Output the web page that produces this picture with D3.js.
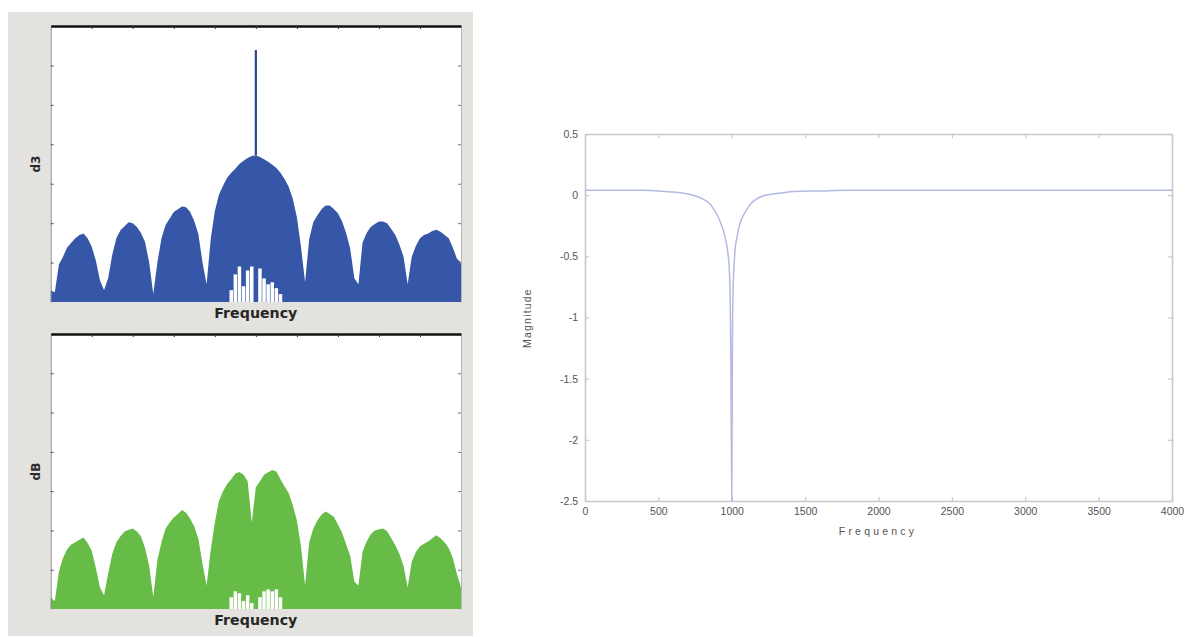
<!DOCTYPE html>
<html><head><meta charset="utf-8">
<script src="https://cdn.jsdelivr.net/npm/d3@7"></script>
<style>body{margin:0;background:#fff;} svg{display:block;}</style>
</head><body><svg id="c" width="1192" height="637"></svg>
<script>
// ---- Data: top spectrum (d3), sampled per frequency bin ----
const d3Upper = [0.30,0.25,0.95,1.15,1.38,1.50,1.62,1.70,1.74,1.62,
 1.40,1.05,0.55,0.30,0.60,1.20,1.62,1.82,1.92,2.02,
 2.00,1.90,1.75,1.52,1.00,0.20,1.00,1.62,1.95,2.12,
 2.28,2.35,2.42,2.40,2.28,2.05,1.72,1.00,0.45,1.60,
 2.30,2.72,2.95,3.15,3.28,3.38,3.50,3.58,3.65,3.70,
 3.72,3.68,3.62,3.56,3.48,3.40,3.28,3.12,2.92,2.62,
 2.15,1.40,0.50,1.60,2.02,2.20,2.35,2.45,2.45,2.36,
 2.25,2.05,1.75,1.35,0.60,0.45,1.50,1.75,1.90,1.98,
 2.04,2.04,2.00,1.85,1.70,1.45,1.15,0.45,1.15,1.42,
 1.62,1.70,1.74,1.80,1.83,1.78,1.70,1.62,1.38,1.10,1.00];
const d3Lower = [0,0,0,0,0,0,0,0,0,0, 0,0,0,0,0,0,0,0,0,0,
 0,0,0,0,0,0,0,0,0,0, 0,0,0,0,0,0,0,0,0,0,
 0,0,0,0,0.30,0.70,0.90,0.40,0.80,0.90,
 0,0.85,0.60,0.45,0.50,0.35,0.20,0,0,0,
 0,0,0,0,0,0,0,0,0,0, 0,0,0,0,0,0,0,0,0,0,
 0,0,0,0,0,0,0,0,0,0, 0,0,0,0,0,0,0,0,0,0,0];
const d3SpikeBin = [50];
const d3SpikeLevel = [6.39];

// ---- Data: bottom spectrum (dB) ----
const dBUpper = [0.30,0.20,0.95,1.30,1.52,1.64,1.70,1.76,1.82,1.68,
 1.48,1.05,0.55,0.35,0.90,1.40,1.70,1.85,1.97,2.02,
 2.05,1.97,1.85,1.55,1.10,0.30,1.25,1.70,2.05,2.20,
 2.33,2.42,2.52,2.45,2.30,2.10,1.78,1.15,0.60,1.50,
 2.20,2.75,3.00,3.18,3.30,3.45,3.49,3.42,3.25,2.20,
 3.10,3.25,3.42,3.48,3.54,3.50,3.30,3.12,2.95,2.65,
 2.25,1.60,0.60,1.70,2.05,2.25,2.40,2.48,2.42,2.35,
 2.15,1.95,1.65,1.35,0.70,0.60,1.45,1.72,1.90,2.00,
 2.03,2.05,1.98,1.80,1.62,1.40,1.10,0.55,1.20,1.45,
 1.60,1.66,1.72,1.80,1.88,1.80,1.70,1.55,1.30,0.90,0.55];
const dBLower = [0,0,0,0,0,0,0,0,0,0, 0,0,0,0,0,0,0,0,0,0,
 0,0,0,0,0,0,0,0,0,0, 0,0,0,0,0,0,0,0,0,0,
 0,0,0,0,0.30,0.45,0.40,0.20,0.35,0.15,
 0,0.30,0.45,0.50,0.45,0.50,0.30,0,0,0,
 0,0,0,0,0,0,0,0,0,0, 0,0,0,0,0,0,0,0,0,0,
 0,0,0,0,0,0,0,0,0,0, 0,0,0,0,0,0,0,0,0,0,0];

const spectrumXTicks = [10,20,30,40,50,60,70,80,90];
const spectrumYTicks = [1,2,3,4,5,6];

// ---- Data: notch filter magnitude ----
const notchFreq = [0,200,400,500,600,650,700,750,800,850,875,900,932,950,966,975,984,990,995,1000,
 1005,1011,1017,1023,1035,1046,1065,1091,1130,1170,1230,1284,1350,1420,1600,1800,2500,3000,4000];
const notchMag = [0.04,0.04,0.04,0.035,0.025,0.02,0.01,-0.005,-0.03,-0.07,-0.11,-0.16,-0.25,-0.32,-0.41,-0.49,-0.62,-0.9,-1.5,-2.5,
 -1.1,-0.69,-0.55,-0.44,-0.35,-0.28,-0.2,-0.14,-0.07,-0.03,0.0,0.01,0.02,0.03,0.035,0.04,0.04,0.04,0.04];
const freqTicks = [0,500,1000,1500,2000,2500,3000,3500,4000];
const freqTickLabels = ["0","500","1000","1500","2000","2500","3000","3500","4000"];
const magTicks = [0.5,0,-0.5,-1,-1.5,-2,-2.5];
const magTickLabels = ["0.5","0","-0.5","-1","-1.5","-2","-2.5"];

const svg = d3.select("#c");

// left gray panel
svg.append("rect").attr("x",8).attr("y",12).attr("width",465).attr("height",624).attr("fill","#e4e2de");

function spectrum(top, bottom, upper, lower, color, ylabel, spikeBins, spikeLevels) {
  const L = 50.7, R = 461;
  const x = d3.scaleLinear().domain([0, upper.length - 1]).range([L, R]);
  const y = d3.scaleLinear().domain([0, 7]).range([bottom, top]);
  const g = svg.append("g");
  g.append("rect").attr("x",L).attr("y",top).attr("width",R-L).attr("height",bottom-top).attr("fill","#fff");
  const area = d3.area()
    .x((d,i) => x(i))
    .y0(y(0))
    .y1(d => y(d))
    .curve(d3.curveLinear);
  g.append("path").datum(upper).attr("d", area).attr("fill", color);
  // white gaps near the baseline
  const bw = (x(1) - x(0)) * 0.85;
  g.selectAll("rect.gap").data(lower.map((v,i)=>({v,i})).filter(d=>d.v>0)).join("rect")
    .attr("class","gap")
    .attr("x", d => x(d.i) - bw/2).attr("width", bw)
    .attr("y", d => y(d.v)).attr("height", d => y(0) - y(d.v))
    .attr("fill","#fff");
  if (spikeBins) {
    spikeBins.forEach((b,k) => {
      g.append("line").attr("x1",x(b)).attr("x2",x(b))
        .attr("y1",y(upper[b])).attr("y2",y(spikeLevels[k]))
        .attr("stroke","#2d4590").attr("stroke-width",2.2);
    });
  }
  // left axis
  const la = g.append("g").attr("transform",`translate(${L},0)`)
    .call(d3.axisRight(y).tickValues(spectrumYTicks).tickSize(3).tickSizeOuter(0).tickFormat(""));
  la.select(".domain").attr("stroke","#8a8a8a").attr("stroke-width",1);
  la.selectAll(".tick line").attr("stroke","#555");
  // right axis
  const ra = g.append("g").attr("transform",`translate(${R},0)`)
    .call(d3.axisLeft(y).tickValues(spectrumYTicks).tickSize(3).tickSizeOuter(0).tickFormat(""));
  ra.select(".domain").attr("stroke","#b5b5b5");
  ra.selectAll(".tick line").attr("stroke","#777");
  // top axis (thick)
  const ta = g.append("g").attr("transform",`translate(0,${top})`)
    .call(d3.axisBottom(x).tickValues(spectrumXTicks).tickSize(3).tickSizeOuter(0).tickFormat(""));
  ta.select(".domain").attr("stroke","#111").attr("stroke-width",2.6);
  ta.selectAll(".tick line").attr("stroke","#333");
  // labels
  g.append("text").attr("transform",`translate(36,${(top+bottom)/2}) rotate(-90)`)
    .attr("text-anchor","middle").attr("dy","0.35em")
    .style("font-family","DejaVu Sans").style("font-size","12px").style("font-weight","bold")
    .attr("fill","#2a2a2a").text(ylabel);
  g.append("text").attr("x",(L+R)/2).attr("y",bottom+16)
    .attr("text-anchor","middle")
    .attr("textLength",83).attr("lengthAdjust","spacingAndGlyphs")
    .style("font-family","DejaVu Sans").style("font-size","14px").style("font-weight","bold")
    .attr("fill","#262626").text("Frequency");
}

spectrum(26, 302, d3Upper, d3Lower, "#3657a8", "d3", d3SpikeBin, d3SpikeLevel);
spectrum(334, 609, dBUpper, dBLower, "#67bc47", "dB", null, null);

// ---- Right chart ----
const xr = d3.scaleLinear().domain([0,4000]).range([585,1172]);
const yr = d3.scaleLinear().domain([-2.5,0.5]).range([501,134]);
const rg = svg.append("g");
const axisColor = "#c9c9c9";
const fontCss = (sel) => sel.style("font-family","Liberation Sans, Arial, sans-serif").style("font-size","10.5px").attr("fill","#555");

const bx = rg.append("g").attr("transform","translate(0,501)")
  .call(d3.axisBottom(xr).tickValues(freqTicks).tickSize(-4).tickSizeOuter(0).tickPadding(7)
    .tickFormat((d,i)=>freqTickLabels[i]));
const tx = rg.append("g").attr("transform","translate(0,134)")
  .call(d3.axisTop(xr).tickValues(freqTicks).tickSize(-4).tickSizeOuter(0).tickFormat(""));
const ly = rg.append("g").attr("transform","translate(585,0)")
  .call(d3.axisLeft(yr).tickValues(magTicks).tickSize(-4).tickSizeOuter(0).tickPadding(7)
    .tickFormat((d,i)=>magTickLabels[i]));
const ry = rg.append("g").attr("transform","translate(1172,0)")
  .call(d3.axisRight(yr).tickValues(magTicks).tickSize(-4).tickSizeOuter(0).tickFormat(""));
[bx,tx,ly,ry].forEach(a => {
  a.select(".domain").attr("stroke",axisColor).attr("stroke-width",1.6);
  a.selectAll(".tick line").attr("stroke",axisColor).attr("stroke-width",1.2);
  a.selectAll("text").call(fontCss);
});

const line = d3.line().x((d,i)=>xr(notchFreq[i])).y(d=>yr(d)).curve(d3.curveMonotoneX);
rg.append("path").datum(notchMag).attr("d",line).attr("fill","none")
  .attr("stroke","#b4b9e2").attr("stroke-width",1.5);

rg.append("text").attr("x",878).attr("y",535).attr("text-anchor","middle")
  .style("letter-spacing","3.2px").call(fontCss).text("Frequency");
rg.append("text").attr("transform","translate(531,318) rotate(-90)").attr("text-anchor","middle")
  .style("letter-spacing","1.2px").call(fontCss).text("Magnitude");
</script></body></html>
